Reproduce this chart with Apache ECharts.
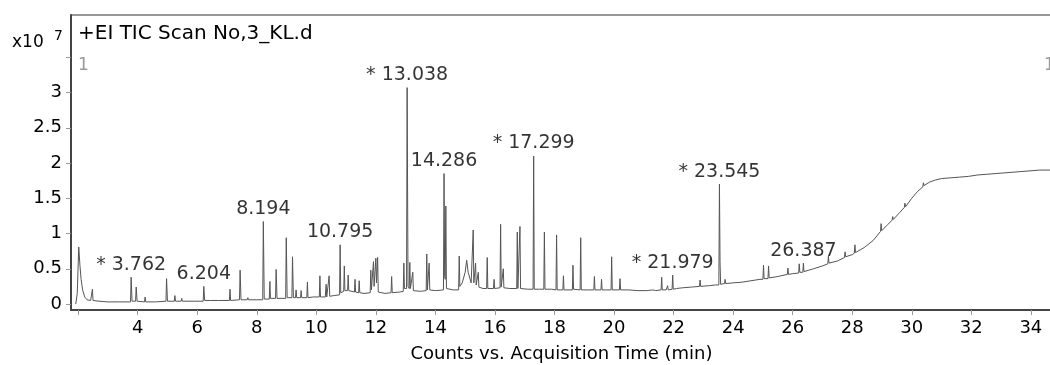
<!DOCTYPE html>
<html>
<head>
<meta charset="utf-8">
<script src="https://cdn.jsdelivr.net/npm/echarts@6/dist/echarts.min.js"></script>
<style>
html,body{margin:0;padding:0;background:#fff;}
#chart{width:1050px;height:365px;}
</style>
</head>
<body>
<div id="chart"></div>
<script>
// ---- data (time in min, counts in x10^7) ----
const traceEarly = [
  [1.92,0.0],[1.97,0.15],[2.02,0.81],[2.06,0.55],[2.1,0.35],[2.15,0.2],[2.22,0.1],[2.3,0.06],[2.42,0.05],
  [2.46,0.05],[2.48,0.21],[2.5,0.05],[2.7,0.04],[3.0,0.03],[3.4,0.03],[3.76,0.03],[3.78,0.38],[3.81,0.04],
  [3.93,0.04],[3.95,0.24],[3.98,0.04],[4.23,0.03],[4.25,0.1],[4.27,0.03],[4.6,0.03],[4.95,0.04],[4.97,0.36],
  [5.0,0.04],[5.23,0.04],[5.25,0.12],[5.27,0.04],[5.46,0.04],[5.48,0.08],[5.5,0.04],[5.9,0.04],[6.2,0.04],
  [6.22,0.25],[6.25,0.05],[6.44,0.05],[6.46,0.07],[6.48,0.05],[6.71,0.05],[6.73,0.06],[6.75,0.05],[7.08,0.05],
  [7.1,0.21],[7.12,0.05],[7.42,0.06],[7.44,0.48],[7.47,0.06],[7.68,0.06],[7.7,0.09],[7.72,0.06],[8.0,0.06],
  [8.2,0.06],[8.22,1.17],[8.25,0.07]
];
const traceMid = [
  [8.42,0.07],[8.44,0.32],[8.46,0.08],[8.63,0.08],[8.65,0.49],[8.68,0.08],[8.97,0.08],[8.99,0.94],[9.02,0.09],
  [9.18,0.09],[9.2,0.67],[9.23,0.09],[9.3,0.09],[9.32,0.2],[9.34,0.09],[9.47,0.09],[9.49,0.19],[9.51,0.09],
  [9.68,0.09],[9.7,0.31],[9.72,0.09],[9.9,0.1],[10.1,0.1],[10.12,0.4],[10.14,0.1],[10.3,0.1],[10.33,0.28],
  [10.35,0.1],[10.41,0.1],[10.43,0.4],[10.45,0.11],[10.6,0.12],[10.78,0.13],[10.8,0.84],[10.82,0.16],
  [10.92,0.18],[10.94,0.54],[10.96,0.19],[11.05,0.19],[11.07,0.41],[11.09,0.19],[11.28,0.17],[11.3,0.35],
  [11.32,0.17],[11.42,0.16],[11.44,0.33],[11.46,0.16],[11.6,0.15],[11.81,0.16],[11.83,0.48],[11.85,0.2],
  [11.9,0.2],[11.92,0.6],[11.94,0.25],[11.98,0.25],[12.0,0.65],[12.02,0.3],[12.04,0.3],[12.06,0.66],
  [12.08,0.17],[12.3,0.15],[12.51,0.16],[12.53,0.39],[12.55,0.16],[12.8,0.17],[12.92,0.18],[12.94,0.58],
  [12.96,0.22],[13.03,0.22],[13.05,3.07],[13.08,0.25],[13.12,0.22],[13.14,0.59],[13.16,0.22],[13.22,0.2],
  [13.24,0.45],[13.26,0.19],[13.5,0.18]
];
const traceMidLate = [
  [13.69,0.19],[13.71,0.71],[13.73,0.2],[13.77,0.2],[13.79,0.58],[13.81,0.2],[14.0,0.19],[14.27,0.2],
  [14.29,1.85],[14.31,0.4],[14.33,0.35],[14.35,1.39],[14.37,0.22],[14.6,0.2],[14.78,0.2],[14.8,0.68],
  [14.82,0.25],[14.9,0.3],[15.0,0.45],[15.05,0.62],[15.1,0.45],[15.2,0.3],[15.25,0.3],[15.27,1.05],
  [15.29,0.3],[15.33,0.28],[15.35,0.58],[15.37,0.27],[15.42,0.26],[15.44,0.45],[15.46,0.24],[15.6,0.22],
  [15.72,0.22],[15.74,0.66],[15.76,0.22],[15.95,0.22],[15.97,0.35],[15.99,0.22],[16.17,0.23],[16.19,1.13],
  [16.21,0.24],[16.26,0.24],[16.28,0.5],[16.3,0.23],[16.5,0.22],[16.73,0.22],[16.75,1.02],[16.77,0.22],
  [16.82,0.22],[16.84,1.1],[16.86,0.22],[17.1,0.21],[17.28,0.21],[17.3,2.1],[17.32,0.21],[17.5,0.21],
  [17.64,0.21],[17.66,1.02],[17.68,0.21],[17.9,0.21],[18.05,0.2],[18.07,0.98],[18.09,0.2],[18.28,0.2],
  [18.3,0.4],[18.32,0.2],[18.6,0.2],[18.62,0.55],[18.64,0.21],[18.86,0.2],[18.88,0.94],[18.9,0.2],
  [19.1,0.2],[19.32,0.2],[19.34,0.39],[19.36,0.2],[19.56,0.2],[19.58,0.35],[19.6,0.2],[19.75,0.2],
  [19.9,0.2],[19.92,0.67],[19.94,0.2],[20.18,0.2],[20.2,0.36],[20.22,0.2],[20.5,0.2]
];
const traceLate = [
  [20.8,0.19],[21.1,0.19],[21.3,0.2],[21.4,0.19],[21.58,0.2],[21.6,0.38],[21.62,0.2],[21.75,0.2],
  [21.8,0.26],[21.82,0.2],[21.95,0.21],[21.97,0.41],[21.99,0.21],[22.1,0.22],[22.3,0.23],[22.6,0.24],
  [22.87,0.25],[22.89,0.34],[22.91,0.25],[23.2,0.26],[23.4,0.27],[23.52,0.27],[23.54,1.7],[23.56,0.6],
  [23.58,0.28],[23.71,0.29],[23.73,0.35],[23.75,0.29],[24.0,0.3],[24.3,0.31],[24.6,0.33],[24.9,0.35],
  [25.0,0.35],[25.02,0.55],[25.04,0.36],[25.17,0.36],[25.19,0.54],[25.21,0.37],[25.5,0.39],[25.82,0.42],
  [25.84,0.51],[25.86,0.42],[26.0,0.43],[26.2,0.44],[26.22,0.57],[26.24,0.45],[26.34,0.45],[26.36,0.58],
  [26.38,0.46],[26.7,0.5],[27.0,0.54],[27.18,0.57],[27.2,0.68],[27.22,0.58],[27.5,0.61],[27.74,0.66],
  [27.76,0.74],[27.78,0.67],[28.0,0.7],[28.07,0.72],[28.09,0.84],[28.11,0.73],[28.4,0.8],[28.7,0.9],
  [28.95,1.03],[28.97,1.14],[28.99,1.04],[29.2,1.13],[29.34,1.19],[29.36,1.24],[29.38,1.2],[29.6,1.3],
  [29.75,1.37],[29.77,1.43],[29.79,1.38],[30.0,1.5],[30.2,1.6],[30.37,1.66],[30.39,1.72],[30.41,1.68],
  [30.6,1.73],[30.8,1.76],[31.0,1.78],[31.3,1.79],[31.6,1.8],[31.9,1.81],[32.2,1.83],[32.5,1.84],
  [32.8,1.85],[33.1,1.86],[33.4,1.87],[33.7,1.88],[34.0,1.89],[34.3,1.9],[34.7,1.9]
];
const peakTimes   = [3.78, 6.22, 8.22, 10.8, 13.05, 14.29, 17.3, 21.97, 23.54, 26.36];
const peakHeights = [0.38, 0.25, 1.17, 0.84, 3.07, 1.85, 2.1, 0.41, 1.7, 0.58];
const peakLabels  = ['* 3.762', '6.204', '8.194', '10.795', '* 13.038', '14.286', '* 17.299', '* 21.979', '* 23.545', '26.387'];
const xTickValues  = [2,4,6,8,10,12,14,16,18,20,22,24,26,28,30,32,34];
const xLabelValues = [4,6,8,10,12,14,16,18,20,22,24,26,28,30,32,34];
const yTickValues  = [0,0.5,1,1.5,2,2.5,3,3.5];
const yLabelValues = [0,0.5,1,1.5,2,2.5,3];
const titleText = '+EI TIC Scan No,3_KL.d';
const xAxisTitle = 'Counts vs. Acquisition Time (min)';

const FONT = 'DejaVu Sans';
const chart = echarts.init(document.getElementById('chart'), null, {renderer:'canvas'});
const trace = traceEarly.concat(traceMid, traceMidLate, traceLate);
const labelPoints = peakTimes.map((t,i)=>({value:[t, peakHeights[i]], name:peakLabels[i]}));

chart.setOption({
  animation:false,
  backgroundColor:'#ffffff',
  grid:{left:71, top:15, right:-2, bottom:55, show:true, borderColor:'#333', borderWidth:1,
        backgroundColor:'transparent', containLabel:false, outerBoundsMode:'none'},
  xAxis:{
    type:'value', min:1.76, max:34.71,
    axisLine:{show:true, onZero:false, lineStyle:{color:'#444', width:2}},
    axisTick:{show:true, length:5, inside:false, customValues:xTickValues, lineStyle:{color:'#999', width:1}},
    axisLabel:{show:true, customValues:xLabelValues, color:'#000', fontFamily:FONT, fontSize:18, margin:9},
    splitLine:{show:false},
    name:xAxisTitle, nameLocation:'middle', nameGap:35,
    nameTextStyle:{color:'#000', fontFamily:FONT, fontSize:18}
  },
  yAxis:{
    type:'value', min:-0.085, max:4.10,
    axisLine:{show:true, onZero:false, lineStyle:{color:'#444', width:2}},
    axisTick:{show:true, length:5, inside:false, customValues:yTickValues, lineStyle:{color:'#999', width:1}},
    axisLabel:{show:true, customValues:yLabelValues, color:'#000', fontFamily:FONT, fontSize:18, margin:9},
    splitLine:{show:false}
  },
  graphic:[
    {type:'text', left:12, top:34, style:{text:'x10', fill:'#000', font:'17px "DejaVu Sans"'}},
    {type:'text', left:54, top:29, style:{text:'7', fill:'#000', font:'14px "DejaVu Sans"'}},
    {type:'text', left:78, top:24, style:{text:titleText, fill:'#000', font:'20px "DejaVu Sans"'}},
    {type:'text', left:78, top:57, style:{text:'1', fill:'#999', font:'17px "DejaVu Sans"'}},
    {type:'text', left:1044, top:57, style:{text:'1', fill:'#999', font:'17px "DejaVu Sans"'}}
  ],
  series:[
    {type:'line', data:trace, showSymbol:false, symbol:'none', sampling:false, silent:true,
     lineStyle:{color:'#555', width:1}, z:2},
    {type:'scatter', data:labelPoints, symbolSize:0, silent:true, z:3,
     label:{show:true, position:'top', distance:3, formatter:p=>p.name, color:'#000',
            textBorderWidth:0, fontFamily:FONT, fontSize:19}}
  ]
});
</script>
</body>
</html>
